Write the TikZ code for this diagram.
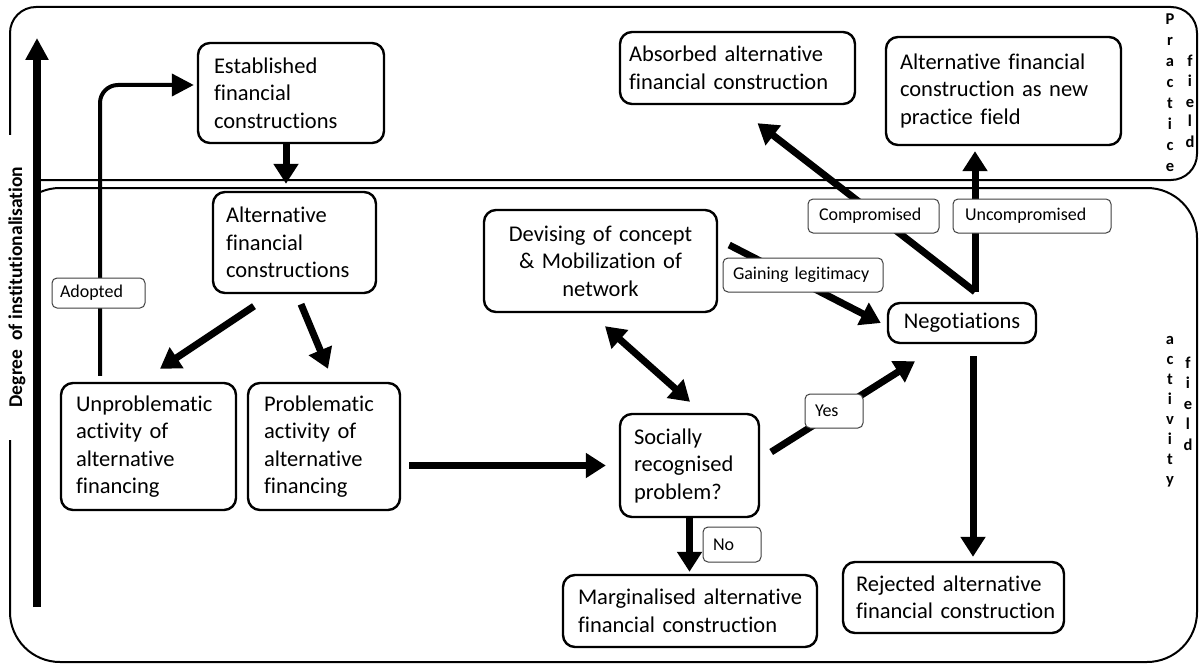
\documentclass[tikz,border=0pt]{standalone}
\usepackage{fontspec}
\setmainfont{Carlito}[Ligatures=NoCommon]
\usetikzlibrary{arrows.meta,calc}
\hyphenpenalty=10000
\exhyphenpenalty=10000
\begin{document}
\begin{tikzpicture}[x=1pt,y=-1pt,
  frame/.style={draw, line width=2pt},
  box/.style={draw, line width=2.4pt, rounded corners=12pt, inner sep=0pt,
    align=left, font=\fontsize{22.5}{27.5}\selectfont},
  cbox/.style={box, align=center},
  tag/.style={draw=black!75, line width=1pt, rounded corners=5pt, fill=white,
    inner sep=0pt, align=left, font=\fontsize{18}{21}\selectfont},
  vl/.style={inner sep=0pt, anchor=base, font=\bfseries\fontsize{16.5}{16.5}\selectfont},
  arr/.style={line width=7pt, -{Triangle[length=20pt,width=24pt]}},
  arrboth/.style={line width=7pt, {Triangle[length=20pt,width=24pt]}-{Triangle[length=20pt,width=24pt]}},
  arrthin/.style={line width=4pt, -{Triangle[length=22pt,width=22pt]}},
  bigarr/.style={line width=8pt, -{Triangle[length=22pt,width=22pt]}},
]
\useasboundingbox (0,0) rectangle (1201,666);

% the two fields
\draw[frame, rounded corners=26pt] (10,7) rectangle (1197,180);
\draw[frame, rounded corners=50pt] (10,188) rectangle (1197,662);

% axis label and axis arrow
\node[fill=white, rotate=90, minimum width=305pt, minimum height=34pt, inner sep=0pt,
  font=\bfseries\fontsize{19.5}{19.5}\selectfont] (deg) at (17,287) {Degree\ \ of institutionalisation};
\coordinate (axisbot) at (37,607);
\coordinate (axistop) at (37,38);
\draw[bigarr] (axisbot) -- (axistop);

% field names
\foreach \c [count=\i from 0] in {P,r,a,c,t,i,c,e}
  \node[vl] (pr\i) at (1170,25+20.9*\i) {\c};
\foreach \c [count=\i from 0] in {f,i,e,l,d}
  \node[vl] (pf\i) at (1190,67+20*\i) {\c};
\foreach \c [count=\i from 0] in {a,c,t,i,v,i,t,y}
  \node[vl] (ac\i) at (1170,344+20*\i) {\c};
\foreach \c [count=\i from 0] in {f,i,e,l,d}
  \node[vl] (af\i) at (1188,368+20.5*\i) {\c};

% boxes
\node[box, minimum width=186pt, minimum height=100pt, text width=154pt] (est) at (291,93)
  {Established\\financial\\constructions};
\node[box, minimum width=163pt, minimum height=101pt, text width=137pt] (alt) at (294.5,242.5)
  {Alternative\\financial\\constructions};
\node[box, minimum width=175pt, minimum height=127pt, text width=145pt] (unp) at (148.5,446.5)
  {Unproblematic\\activity~of\\alternative\\financing};
\node[box, minimum width=152pt, minimum height=127pt, text width=120pt] (prob) at (324,446.5)
  {Problematic\\activity~of\\alternative\\financing};
\node[cbox, minimum width=233pt, minimum height=102pt, text width=209pt] (dev) at (600.5,261)
  {Devising~of~concept\\\&~Mobilization~of\\network};
\node[cbox, minimum width=148pt, minimum height=40pt] (neg) at (962,323) {Negotiations};
\node[box, minimum width=139pt, minimum height=103pt, text width=111pt] (soc) at (689.5,465.5)
  {Socially\\recognised\\problem?};
\node[box, minimum width=254pt, minimum height=72pt, text width=224pt] (marg) at (690,611)
  {\mbox{Marginalised alternative}\\\mbox{financial construction}};
\node[box, minimum width=221pt, minimum height=71pt, text width=195pt] (rej) at (953.5,597.5)
  {\mbox{Rejected alternative}\\\mbox{financial construction}};
\node[box, minimum width=235pt, minimum height=72pt, text width=217pt] (abs) at (737.5,68)
  {\mbox{Absorbed alternative}\\\mbox{financial construction}};
\node[box, minimum width=235pt, minimum height=108pt, text width=207pt] (new) at (1003.5,91)
  {\mbox{Alternative financial}\\\mbox{construction as new}\\\mbox{practice field}};

% connectors
\draw[arr, shorten >=7pt] ([xshift=-5pt]est.south) -- ($(est.south |- alt.north)+(-5,0)$);
\draw[arr] ($(alt.south)+(-40.5,12)$) -- ($(unp.north)+(11.5,-13)$);
\draw[arr] ($(alt.south)+(6.5,10)$) -- ($(prob.north)+(4,-13)$);
\draw[arr] ($(prob.east |- soc.west)+(8,0)$) -- ($(soc.west)+(-13,0)$);
\draw[arrboth] ($(dev.south)+(4.5,13)$) -- ($(soc.north)+(0.5,-11)$);
\draw[arr] ($(dev.east)+(11,-16)$) -- ($(neg.west)+(-6,0)$);
\draw[arr] ($(soc.east)+(11,-13.5)$) -- ($(neg.south)+(-47,17)$);
\draw[arr, shorten >=2pt] (soc.south) -- (soc.south |- marg.north);
\coordinate (rejin) at ($(neg.south)+(11,12)$);
\draw[arr, shorten >=4pt] (rejin) -- (rejin |- rej.north);
\coordinate (split) at ($(neg.north)+(13,-10)$);
\draw[arr] (split) -- ($(abs.south)+(20,18)$);
\draw[arr, shorten >=5pt] (split) -- (split |- new.south);
\draw[arrthin, rounded corners=18pt] ($(unp.north)+(-48.5,-6)$) |- ($(est.west)+(-3,-8)$);

% connector labels
\node[tag, minimum width=93pt, minimum height=30pt, text width=77pt] (adopted) at (98.5,293) {Adopted};
\node[tag, minimum width=160pt, minimum height=34pt, text width=140pt] (gain) at (803,275) {Gaining legitimacy};
\node[tag, minimum width=131pt, minimum height=34pt, text width=109pt] (comp) at (873.5,216) {Compromised};
\node[tag, minimum width=158pt, minimum height=34pt, text width=134pt] (uncomp) at (1032,216) {Uncompromised};
\node[tag, minimum width=58pt, minimum height=34pt, text width=38pt] (yes) at (834,411) {Yes};
\node[tag, minimum width=58pt, minimum height=35pt, text width=38pt] (no) at (732,544.5) {No};
\end{tikzpicture}
\end{document}
